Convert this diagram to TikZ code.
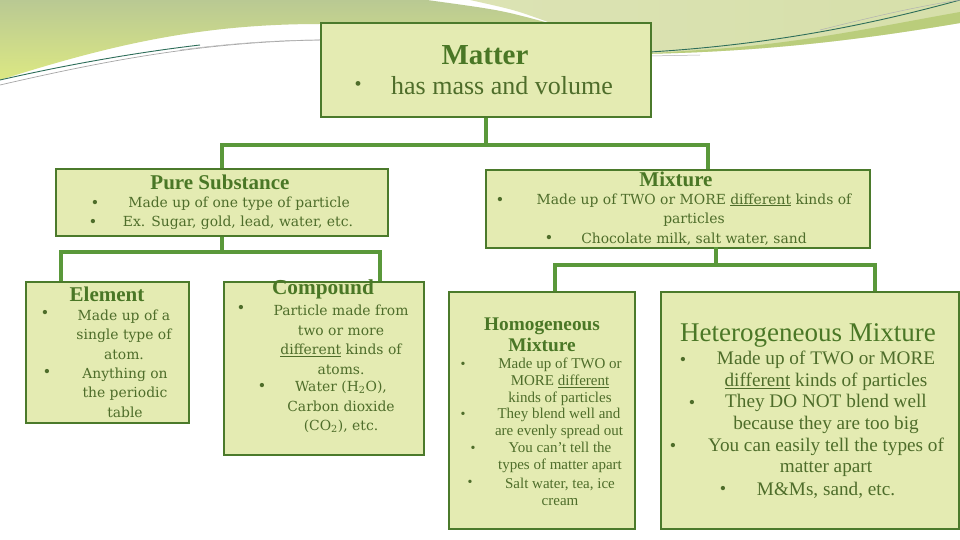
\documentclass[tikz,border=0pt]{standalone}
\usepackage{fontspec}
\setmainfont{Liberation Serif}
\newfontfamily\slab{DejaVu Serif}
\definecolor{boxfill}{HTML}{E4EBB2}
\definecolor{boxline}{HTML}{4B7A2B}
\definecolor{linkgreen}{HTML}{5A983A}
\definecolor{txtgreen}{HTML}{4E6D2A}
\definecolor{headgreen}{HTML}{4A7726}
\definecolor{olive}{HTML}{B9C993}
\definecolor{lime}{HTML}{DCE883}
\definecolor{pale}{HTML}{DCE3B4}
\definecolor{band}{HTML}{B3C970}
\definecolor{teal}{HTML}{2E6E5A}

\begin{document}
\begin{tikzpicture}[x=1pt, y=-1pt,
  every node/.style={text=txtgreen},
  box/.style={draw=boxline, line width=2pt, fill=boxfill, anchor=north west, inner sep=0pt},
  link/.style={draw=linkgreen, line width=4.5pt},
  head/.style={font=\bfseries\fontsize{21}{23}\selectfont, text=headgreen, align=center},
  body/.style={font=\slab\fontsize{13.9}{19.5}\selectfont, align=center},
  soft/.style={font=\fontsize{15}{17}\selectfont, align=center},
  big/.style={font=\fontsize{19.2}{21.5}\selectfont, align=center},
  dot/.style={font=\fontsize{18}{18}\selectfont},
  smalldot/.style={font=\fontsize{14}{14}\selectfont}
]
\useasboundingbox (0,0) rectangle (960,540);
\fill[white] (0,0) rectangle (960,540);

% ---- top swoosh ----
\shade[top color=olive, bottom color=lime]
  (0,0) -- (0,80) .. controls (110,45) and (200,24) .. (320,24)
  -- (545,22) .. controls (500,10) .. (427,0) -- cycle;
\shade[left color=pale, right color=pale!85!band]
  (470,0) -- (960,0) -- (960,23) .. controls (860,40) and (760,52) .. (640,54)
  -- (640,22) -- (548,22) .. controls (515,10) .. (470,0) -- cycle;
\fill[band, opacity=0.8]
  (700,50) .. controls (800,44) and (880,26) .. (960,12) -- (960,23)
  .. controls (860,40) and (760,52) .. (640,54) -- cycle;
\draw[teal, line width=0.9pt] (0,80) .. controls (70,64) and (140,52) .. (200,45);
\draw[gray!70, line width=0.7pt] (0,85) .. controls (100,62) and (200,42) .. (320,40);
\draw[gray!60, line width=0.5pt] (180,50) .. controls (240,42) and (290,40) .. (320,40);
\draw[teal, line width=0.9pt] (650,52) .. controls (780,44) and (880,22) .. (960,0);
\draw[gray!60, line width=0.5pt] (650,56) -- (700,55);
\draw[gray!60, line width=0.5pt] (820,30) .. controls (880,15) and (920,6) .. (960,0);

% ---- boxes ----
\node[box, minimum width=330, minimum height=94] (matter) at (320,22) {};
\node[box, minimum width=332, minimum height=67] (pure) at (55,168) {};
\node[box, minimum width=384, minimum height=78] (mix) at (485,169) {};
\node[box, minimum width=163, minimum height=141] (elem) at (25,281) {};
\node[box, minimum width=200, minimum height=173] (comp) at (223,281) {};
\node[box, minimum width=186, minimum height=237] (homo) at (448,291) {};
\node[box, minimum width=298, minimum height=237] (hetero) at (660,291) {};

% ---- connectors ----
\coordinate (mixin) at (708,169);
\coordinate (mixout) at (716,247);
\coordinate (elin) at (61,281);
\coordinate (compin) at (380,281);
\coordinate (homin) at (555,291);
\coordinate (hetin) at (875,291);
\draw[link] (matter.south) -- ++(0,27) coordinate (j1);
\draw[link] (j1) -| (pure.north);
\draw[link] (j1) -| (mixin);
\draw[link] (pure.south) -- ++(0,15) coordinate (j2);
\draw[link] (j2) -| (elin);
\draw[link] (j2) -| (compin);
\draw[link] (mixout) -- ++(0,18) coordinate (j3);
\draw[link] (j3) -| (homin);
\draw[link] (j3) -| (hetin);

% ---- Matter ----
\node[head, font=\bfseries\fontsize{29}{31}\selectfont] (matter-t) at (485,55) {Matter};
\node[dot, font=\fontsize{20}{20}\selectfont] (matter-d) at (358,86) {\textbullet};
\node[font=\fontsize{26}{28}\selectfont] (matter-b) at (502,86) {has mass and volume};

% ---- Pure Substance ----
\node[head] (pure-t) at (220,182) {Pure Substance};
\node[dot] (pure-d1) at (95,204) {\textbullet};
\node[body] (pure-b1) at (239,204) {Made up of one type of particle};
\node[dot] (pure-d2) at (93,223) {\textbullet};
\node[body] (pure-b2) at (238,223) {Ex. Sugar, gold, lead, water, etc.};

% ---- Mixture ----
\node[head] (mix-t) at (676,179) {Mixture};
\node[dot] (mix-d1) at (500,201) {\textbullet};
\node[body] (mix-b1) at (694,210) {Made up of TWO or MORE \underline{different} kinds of\\particles};
\node[dot] (mix-d2) at (549,239) {\textbullet};
\node[body] (mix-b2) at (694,239) {Chocolate milk, salt water, sand};

% ---- Element ----
\node[head] (elem-t) at (107,294) {Element};
\node[dot] (elem-d1) at (45,314) {\textbullet};
\node[body] (elem-b1) at (124,334.5) {Made up of a\\single type of\\atom.};
\node[dot] (elem-d2) at (47,373) {\textbullet};
\node[body] (elem-b2) at (125,392.5) {Anything on\\the periodic\\table};

% ---- Compound ----
\node[head, font=\bfseries\fontsize{21.3}{23}\selectfont] (comp-t) at (323,289) {Compound};
\node[dot] (comp-d1) at (241,309) {\textbullet};
\node[body] (comp-b1) at (341,340) {Particle made from\\two or more\\\underline{different} kinds of\\atoms.};
\node[dot] (comp-d2) at (262,387) {\textbullet};
\node[body] (comp-b2) at (341,407) {Water (H\textsubscript{2}O),\\Carbon dioxide\\(CO\textsubscript{2}), etc.};

% ---- Homogeneous Mixture ----
\node[head, font=\bfseries\fontsize{19.3}{21}\selectfont] (homo-t) at (542,334.5) {Homogeneous\\Mixture};
\node[smalldot] (homo-d1) at (463,365) {\textbullet};
\node[soft] (homo-b1) at (560,381.5) {Made up of TWO or\\MORE \underline{different}\\kinds of particles};
\node[smalldot] (homo-d2) at (463,415) {\textbullet};
\node[soft] (homo-b2) at (559,423.5) {They blend well and\\are evenly spread out};
\node[smalldot] (homo-d3) at (473,449) {\textbullet};
\node[soft] (homo-b3) at (560,457.5) {You can’t tell the\\types of matter apart};
\node[smalldot] (homo-d4) at (470,483) {\textbullet};
\node[soft] (homo-b4) at (560,491.5) {Salt water, tea, ice\\cream};

% ---- Heterogeneous Mixture ----
\node[head, font=\fontsize{27}{29}\selectfont] (het-t) at (808,335) {Heterogeneous Mixture};
\node[dot] (het-d1) at (683,361) {\textbullet};
\node[big] (het-b1) at (826,371) {Made up of TWO or MORE\\\underline{different} kinds of particles};
\node[dot] (het-d2) at (692,404) {\textbullet};
\node[big] (het-b2) at (826,414) {They DO NOT blend well\\because they are too big};
\node[dot] (het-d3) at (673,447) {\textbullet};
\node[big] (het-b3) at (826,457.5) {You can easily tell the types of\\matter apart};
\node[dot] (het-d4) at (723,490) {\textbullet};
\node[big] (het-b4) at (826,490) {M\&Ms, sand, etc.};

\end{tikzpicture}
\end{document}
